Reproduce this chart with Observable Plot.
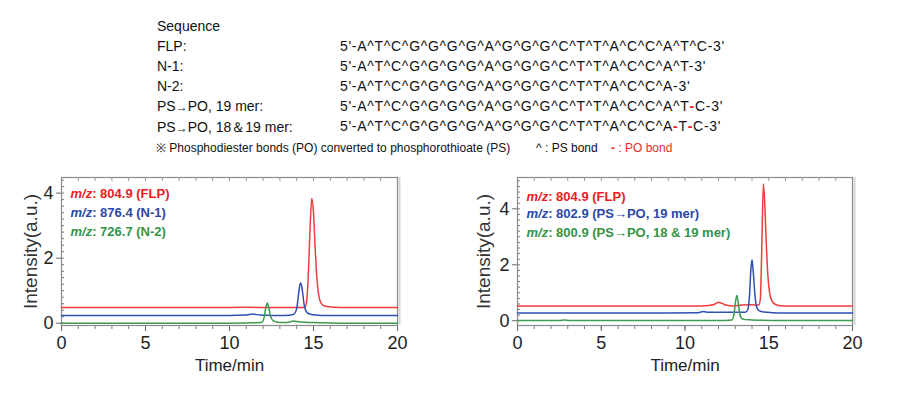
<!DOCTYPE html>
<html><head><meta charset="utf-8">
<script src="https://cdn.jsdelivr.net/npm/d3@7"></script>
<script src="https://cdn.jsdelivr.net/npm/@observablehq/plot@0.6"></script>
<style>
html,body{margin:0;padding:0;background:#fff;}
#root{position:relative;width:902px;height:398px;overflow:hidden;font-family:"Liberation Sans",Arial,sans-serif;color:#111;}
.hdr{position:absolute;font-size:14px;line-height:20px;white-space:nowrap;}
.seq{letter-spacing:0.7px;}
.po{color:#e8141e;font-weight:bold;}
.arr{font-size:12px;}
.note{position:absolute;font-size:12px;line-height:16px;white-space:nowrap;}
.chart{position:absolute;top:170px;}
</style></head>
<body><div id="root"></div>
<script>
// ---------- header data ----------
const seqTitle = "Sequence";
const seqLabels = ["FLP:", "N-1:", "N-2:", "PS\u2192PO, 19 mer:", "PS\u2192PO, 18\uFF0619 mer:"];
// "~" marks a PO bond (drawn as a red dash)
const seqTexts = [
  "5'-A^T^C^G^G^G^G^A^G^G^G^C^T^T^A^C^C^A^T^C-3'",
  "5'-A^T^C^G^G^G^G^A^G^G^G^C^T^T^A^C^C^A^T-3'",
  "5'-A^T^C^G^G^G^G^A^G^G^G^C^T^T^A^C^C^A-3'",
  "5'-A^T^C^G^G^G^G^A^G^G^G^C^T^T^A^C^C^A^T~C-3'",
  "5'-A^T^C^G^G^G^G^A^G^G^G^C^T^T^A^C^C^A~T~C-3'"
];
const noteText = "\u203B Phosphodiester bonds (PO) converted to phosphorothioate (PS)";
const psBondText = "^ : PS bond";
const poBondText = "- : PO bond";

// ---------- chart data: left panel ----------
const leftLegend = ["m/z: 804.9 (FLP)", "m/z: 876.4 (N-1)", "m/z: 726.7 (N-2)"];
const leftFLP_t = [0, 1.5, 3, 5, 7, 9, 11, 12.5, 13.5, 14.3, 14.5, 14.6, 14.7, 14.8, 14.9, 15.0, 15.1, 15.2, 15.3, 15.45, 15.7, 16.2, 17, 18.5, 20];
const leftFLP_y = [0.48, 0.48, 0.48, 0.48, 0.48, 0.48, 0.49, 0.48, 0.48, 0.48, 0.5, 0.7, 1.6, 3.0, 3.84, 3.4, 2.3, 1.4, 0.9, 0.62, 0.52, 0.49, 0.48, 0.48, 0.48];
const leftN1_t = [0, 2, 4, 6, 8, 10, 11.0, 11.4, 11.8, 12.5, 13.3, 13.8, 14.0, 14.1, 14.2, 14.25, 14.35, 14.45, 14.55, 14.7, 15.0, 15.5, 16.5, 18, 20];
const leftN1_y = [0.24, 0.24, 0.24, 0.24, 0.24, 0.24, 0.25, 0.28, 0.25, 0.24, 0.24, 0.27, 0.45, 0.85, 1.2, 1.24, 0.95, 0.55, 0.38, 0.3, 0.26, 0.24, 0.24, 0.24, 0.24];
const leftN2_t = [0, 3, 6, 9, 11, 11.9, 12.05, 12.15, 12.25, 12.35, 12.45, 12.6, 12.8, 13.2, 13.6, 13.8, 14.0, 14.5, 15, 16, 18, 20];
const leftN2_y = [0.0, 0.0, 0.0, 0.0, 0.01, 0.02, 0.15, 0.45, 0.62, 0.45, 0.2, 0.08, 0.04, 0.02, 0.04, 0.07, 0.05, 0.03, 0.02, 0.01, 0.0, 0.0];

// ---------- chart data: right panel ----------
const rightLegend = ["m/z: 804.9 (FLP)", "m/z: 802.9 (PS\u2192PO, 19 mer)", "m/z: 800.9 (PS\u2192PO, 18 & 19 mer)"];
const rightFLP_t = [0, 3, 6, 9, 11, 11.5, 11.8, 12.0, 12.2, 12.5, 12.9, 13.4, 14.0, 14.4, 14.5, 14.58, 14.68, 14.76, 14.85, 14.95, 15.05, 15.2, 15.4, 15.7, 16.2, 18, 20];
const rightFLP_y = [0.53, 0.53, 0.53, 0.53, 0.53, 0.55, 0.6, 0.66, 0.62, 0.55, 0.53, 0.56, 0.57, 0.56, 0.8, 2.5, 4.89, 4.2, 2.8, 1.6, 1.0, 0.7, 0.58, 0.54, 0.53, 0.53, 0.53];
const right19_t = [0, 3, 6, 9, 10.8, 11.1, 11.4, 12, 13, 13.6, 13.75, 13.85, 13.93, 14.0, 14.08, 14.18, 14.3, 14.45, 14.7, 15.2, 16, 18, 20];
const right19_y = [0.28, 0.28, 0.28, 0.28, 0.29, 0.33, 0.3, 0.3, 0.3, 0.3, 0.4, 0.9, 1.8, 2.18, 1.7, 0.9, 0.45, 0.35, 0.31, 0.29, 0.28, 0.28, 0.28];
const right1819_t = [0, 2.5, 2.8, 3.1, 6, 9, 12, 12.8, 12.93, 13.02, 13.1, 13.18, 13.27, 13.38, 13.6, 14, 14.5, 15.5, 18, 20];
const right1819_y = [0.01, 0.01, 0.03, 0.01, 0.01, 0.01, 0.01, 0.03, 0.25, 0.7, 0.9, 0.65, 0.25, 0.08, 0.04, 0.03, 0.02, 0.01, 0.01, 0.01];

// ---------- axes ----------
const xTickLabels = [0, 5, 10, 15, 20];
const leftYTickLabels = [0, 2, 4];
const rightYTickLabels = [0, 2, 4];
const xLabel = "Time/min";
const yLabel = "Intensity(a.u.)";

const lineColors = ["#f03c3c", "#2f4fb2", "#3c9c50"];
const textColors = ["#ec1c24", "#2a48a8", "#359444"];

// ---------- header ----------
const root = document.getElementById("root");
function esc(s){return s.replace(/&/g,"&amp;").replace(/</g,"&lt;");}
function labelHTML(s){return esc(s).replace(/\u2192/g,'<span class="arr">\u2192</span>');}
const hdrL = document.createElement("div");
hdrL.className = "hdr"; hdrL.style.left = "157px"; hdrL.style.top = "16px";
hdrL.innerHTML = [seqTitle, ...seqLabels].map(labelHTML).join("<br>");
root.appendChild(hdrL);
const hdrR = document.createElement("div");
hdrR.className = "hdr seq"; hdrR.style.left = "340px"; hdrR.style.top = "36px";
hdrR.innerHTML = seqTexts.map(s => esc(s).replace(/~/g,'<span class="po">-</span>')).join("<br>");
root.appendChild(hdrR);
const note1 = document.createElement("div");
note1.className = "note"; note1.style.left = "156px"; note1.style.top = "140px";
note1.textContent = noteText; root.appendChild(note1);
const note2 = document.createElement("div");
note2.className = "note"; note2.style.left = "536px"; note2.style.top = "140px";
note2.textContent = psBondText; root.appendChild(note2);
const note3 = document.createElement("div");
note3.className = "note"; note3.style.left = "611px"; note3.style.top = "140px"; note3.style.color = "#ee2a2a";
note3.innerHTML = '<b>-</b>' + esc(poBondText.slice(1)); root.appendChild(note3);

// ---------- charts ----------
function rows(t, y, s){ return t.map((v,i)=>({t:v, y:y[i], s})); }

function chart({series, legend, yDomain, yTicks, width, mLeft, mRight, legendDy, yLabelX}){
  const data = series.flatMap(d => rows(d[0], d[1], d[2]));
  const names = series.map(d => d[2]);
  const yMinor = d3.range(0, yDomain[1], 0.2);
  const xMinor = d3.range(0, 21, 1);
  const p = Plot.plot({
    width, height: 228,
    marginLeft: mLeft, marginRight: mRight, marginTop: 7, marginBottom: 73,
    style: {fontFamily: '"Liberation Sans", Arial, sans-serif', fontSize: "18px", color: "#222", background: "#fff", overflow: "visible"},
    x: {domain: [0, 20]},
    y: {domain: yDomain},
    color: {domain: names, range: lineColors},
    marks: [
      Plot.axisX({ticks: xMinor, tickFormat: () => "", tickSize: 4, stroke: "#777", label: null}),
      Plot.axisX({anchor: "top", ticks: xMinor, tickFormat: () => "", tickSize: -3, stroke: "#999", label: null}),
      Plot.axisX({ticks: xTickLabels, tickFormat: d3.format("d"), tickSize: 6, tickPadding: 5, stroke: "#666", fill: "#222", label: null}),
      Plot.axisY({ticks: yMinor, tickFormat: () => "", tickSize: -3, stroke: "#777", label: null}),
      Plot.axisY({ticks: yTicks, tickFormat: d3.format("d"), tickSize: 5, tickPadding: 3, stroke: "#666", fill: "#222", label: null}),
      Plot.frame({stroke: "#8a8a8a", strokeWidth: 1.2}),
      Plot.ruleX([20], {dx: 2, stroke: "#d4d4d4", strokeWidth: 2}),
      Plot.line(data, {x: "t", y: "y", z: "s", stroke: "s", strokeWidth: 1.5, curve: "monotone-x"}),
      Plot.text([xLabel], {frameAnchor: "bottom", dy: 40, lineAnchor: "middle", textAnchor: "middle", fontSize: 17, fill: "#222"}),
      Plot.text([yLabel], {frameAnchor: "left", dx: -(mLeft - yLabelX), rotate: -90, textAnchor: "middle", lineAnchor: "middle", fontSize: 19, fill: "#333"}),
      ...legend.map((s, i) => Plot.text([s], {frameAnchor: "top-left", dx: 9, dy: legendDy[i], textAnchor: "start", lineAnchor: "middle", fontSize: 13, fontWeight: "bold", fill: textColors[i], className: "lg"}))
    ]
  });
  d3.select(p).selectAll(".lg text").each(function(){
    const t = this.textContent;
    if (!t.startsWith("m/z")) return;
    const sel = d3.select(this); sel.text(null);
    sel.append("tspan").attr("font-style", "italic").text("m/z");
    sel.append("tspan").text(t.slice(3));
  });
  return p;
}

const c1 = document.createElement("div"); c1.className = "chart"; c1.style.left = "0px";
c1.appendChild(chart({
  series: [[leftFLP_t, leftFLP_y, "FLP"], [leftN1_t, leftN1_y, "N-1"], [leftN2_t, leftN2_y, "N-2"]],
  legend: leftLegend, yDomain: [-0.07, 4.48], yTicks: leftYTickLabels,
  width: 420, mLeft: 61, mRight: 23, legendDy: [16, 35, 54], yLabelX: 30
}));
root.appendChild(c1);
const c2 = document.createElement("div"); c2.className = "chart"; c2.style.left = "440px";
c2.appendChild(chart({
  series: [[rightFLP_t, rightFLP_y, "FLP"], [right19_t, right19_y, "19 mer"], [right1819_t, right1819_y, "18 & 19 mer"]],
  legend: rightLegend, yDomain: [-0.17, 5.12], yTicks: rightYTickLabels,
  width: 460, mLeft: 77, mRight: 48, legendDy: [19, 36, 55], yLabelX: 43
}));
root.appendChild(c2);
</script></body></html>
